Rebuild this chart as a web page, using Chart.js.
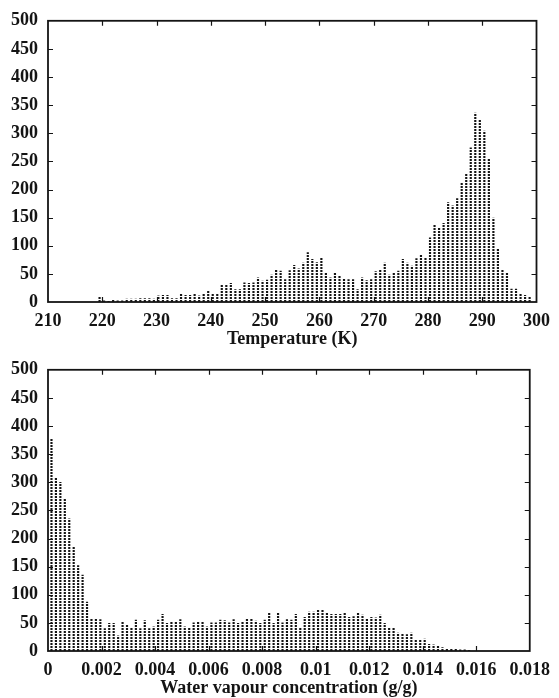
<!DOCTYPE html>
<html>
<head>
<meta charset="utf-8">
<script src="https://cdn.jsdelivr.net/npm/chart.js@4/dist/chart.umd.min.js"></script>
<style>
  html, body { margin: 0; padding: 0; background: #ffffff; }
  #wrap { position: relative; width: 559px; height: 698px; }
  #wrap canvas { position: absolute; left: 0; }
</style>
</head>
<body>
<div id="wrap">
  <canvas id="tempChart" width="559" height="349" style="top:0px"></canvas>
  <canvas id="vapourChart" width="559" height="349" style="top:349px"></canvas>
</div>
<script>
// Temperature histogram: bin centres start at tempBinStart, spaced tempBinWidth (K)
const tempBinStart = 219.5;
const tempBinWidth = 0.834;
const tempCounts = [
  9, 2, 1, 4, 2, 2, 5, 5, 5, 6,
  6, 6, 5, 11, 12, 12, 6, 6, 15, 12,
  12, 15, 11, 14, 20, 14, 15, 30, 30, 33,
  22, 22, 34, 33, 34, 43, 37, 39, 48, 57,
  55, 40, 56, 65, 59, 69, 88, 76, 70, 78,
  51, 43, 51, 47, 42, 40, 40, 22, 43, 38,
  40, 54, 57, 69, 48, 51, 55, 76, 69, 64,
  77, 83, 78, 114, 137, 131, 140, 177, 171, 184,
  212, 228, 274, 336, 325, 304, 254, 149, 95, 58,
  51, 23, 23, 15, 12, 9
];

// Water vapour histogram: bin centres start at vapourBinStart, spaced vapourBinWidth (g/g)
const vapourBinStart = 0.00013;
const vapourBinWidth = 0.000166;
const vapourCounts = [
  377, 309, 300, 271, 235, 185, 152, 135, 87,
  58, 58, 56, 40, 49, 49, 27, 51, 46, 41, 55,
  40, 54, 40, 43, 55, 65, 49, 51, 52, 56,
  43, 41, 50, 51, 51, 43, 50, 50, 55, 54,
  50, 56, 49, 52, 57, 58, 53, 49, 55, 67,
  49,
  67, 50, 56, 55, 65, 41, 60, 69, 69, 73, 74, 68, 65,
  65, 65, 67, 60, 61, 68, 64, 58, 60, 59, 64, 49, 41, 41, 32, 30,
  29, 32, 20, 20, 21, 12, 11, 10, 6, 3, 4, 3, 2, 2, 1
];

// Axis settings
const countAxis = { min: 0, max: 500, step: 50 };
const tempAxis = { min: 210, max: 300, step: 10, title: 'Temperature (K)' };
const vapourAxis = { min: 0, max: 0.018, step: 0.002, title: 'Water vapour concentration (g/g)' };

const FONT = { family: "'Liberation Serif', 'Times New Roman', serif", size: 18, weight: 'bold' };
const INK = '#141414';

// Vertical dash pattern used to fill every bar (2px ink, 1px gap)
function dashPattern(color) {
  const c = document.createElement('canvas');
  c.width = 1; c.height = 3;
  const g = c.getContext('2d');
  g.fillStyle = color;
  g.fillRect(0, 0, 1, 2);
  return g.createPattern(c, 'repeat');
}

function toPoints(start, width, counts) {
  return counts.map((v, i) => ({ x: start + i * width, y: v }));
}

// Box frame around the plot plus short tick marks pointing inwards on all four sides
const framePlugin = {
  id: 'frame',
  afterDatasetsDraw(chart) {
    const { ctx, chartArea: a, scales: { x, y } } = chart;
    const len = 5;
    ctx.save();
    ctx.strokeStyle = INK;
    ctx.lineWidth = 1.2;
    ctx.beginPath();
    x.ticks.forEach(t => {
      const px = Math.round(x.getPixelForValue(t.value)) + 0.5;
      if (px <= a.left + 1 || px >= a.right - 1) return;
      ctx.moveTo(px, a.bottom); ctx.lineTo(px, a.bottom - len);
      ctx.moveTo(px, a.top); ctx.lineTo(px, a.top + len);
    });
    y.ticks.forEach(t => {
      const py = Math.round(y.getPixelForValue(t.value)) + 0.5;
      if (py <= a.top + 1 || py >= a.bottom - 1) return;
      ctx.moveTo(a.left, py); ctx.lineTo(a.left + len, py);
      ctx.moveTo(a.right, py); ctx.lineTo(a.right - len, py);
    });
    ctx.stroke();
    ctx.lineWidth = 1.8;
    ctx.strokeRect(a.left, a.top, a.right - a.left, a.bottom - a.top);
    ctx.restore();
  }
};

function makeHistogram(canvasId, points, xAxis, xLabel, rightPad) {
  const ctx = document.getElementById(canvasId).getContext('2d');
  return new Chart(ctx, {
    type: 'bar',
    data: {
      datasets: [{
        data: points,
        backgroundColor: dashPattern(INK),
        borderWidth: 0,
        barThickness: 1.5,
        grouped: false
      }]
    },
    options: {
      responsive: false,
      animation: false,
      devicePixelRatio: 1,
      layout: { padding: { top: 20, right: rightPad, left: 0, bottom: 0 } },
      plugins: { legend: { display: false }, tooltip: { enabled: false } },
      scales: {
        x: {
          type: 'linear',
          min: xAxis.min,
          max: xAxis.max,
          offset: false,
          grid: { display: false, drawTicks: false },
          border: { display: false },
          ticks: {
            stepSize: xAxis.step,
            autoSkip: false,
            maxRotation: 0,
            padding: 9,
            color: INK,
            font: FONT,
            callback: xLabel
          },
          title: {
            display: true,
            text: xAxis.title,
            color: INK,
            font: Object.assign({}, FONT, { lineHeight: 1 }),
            padding: { top: 0, bottom: 1 }
          },
          afterFit(scale) { scale.height = 47; }
        },
        y: {
          min: countAxis.min,
          max: countAxis.max,
          grid: { display: false, drawTicks: false },
          border: { display: false },
          ticks: { stepSize: countAxis.step, padding: 10, color: INK, font: FONT },
          afterFit(scale) { scale.width = 48; }
        }
      }
    },
    plugins: [framePlugin]
  });
}

makeHistogram('tempChart',
  toPoints(tempBinStart, tempBinWidth, tempCounts),
  tempAxis,
  v => String(Math.round(v)),
  21);

makeHistogram('vapourChart',
  toPoints(vapourBinStart, vapourBinWidth, vapourCounts),
  vapourAxis,
  v => String(parseFloat(Number(v).toFixed(3))),
  23);
</script>
</body>
</html>
